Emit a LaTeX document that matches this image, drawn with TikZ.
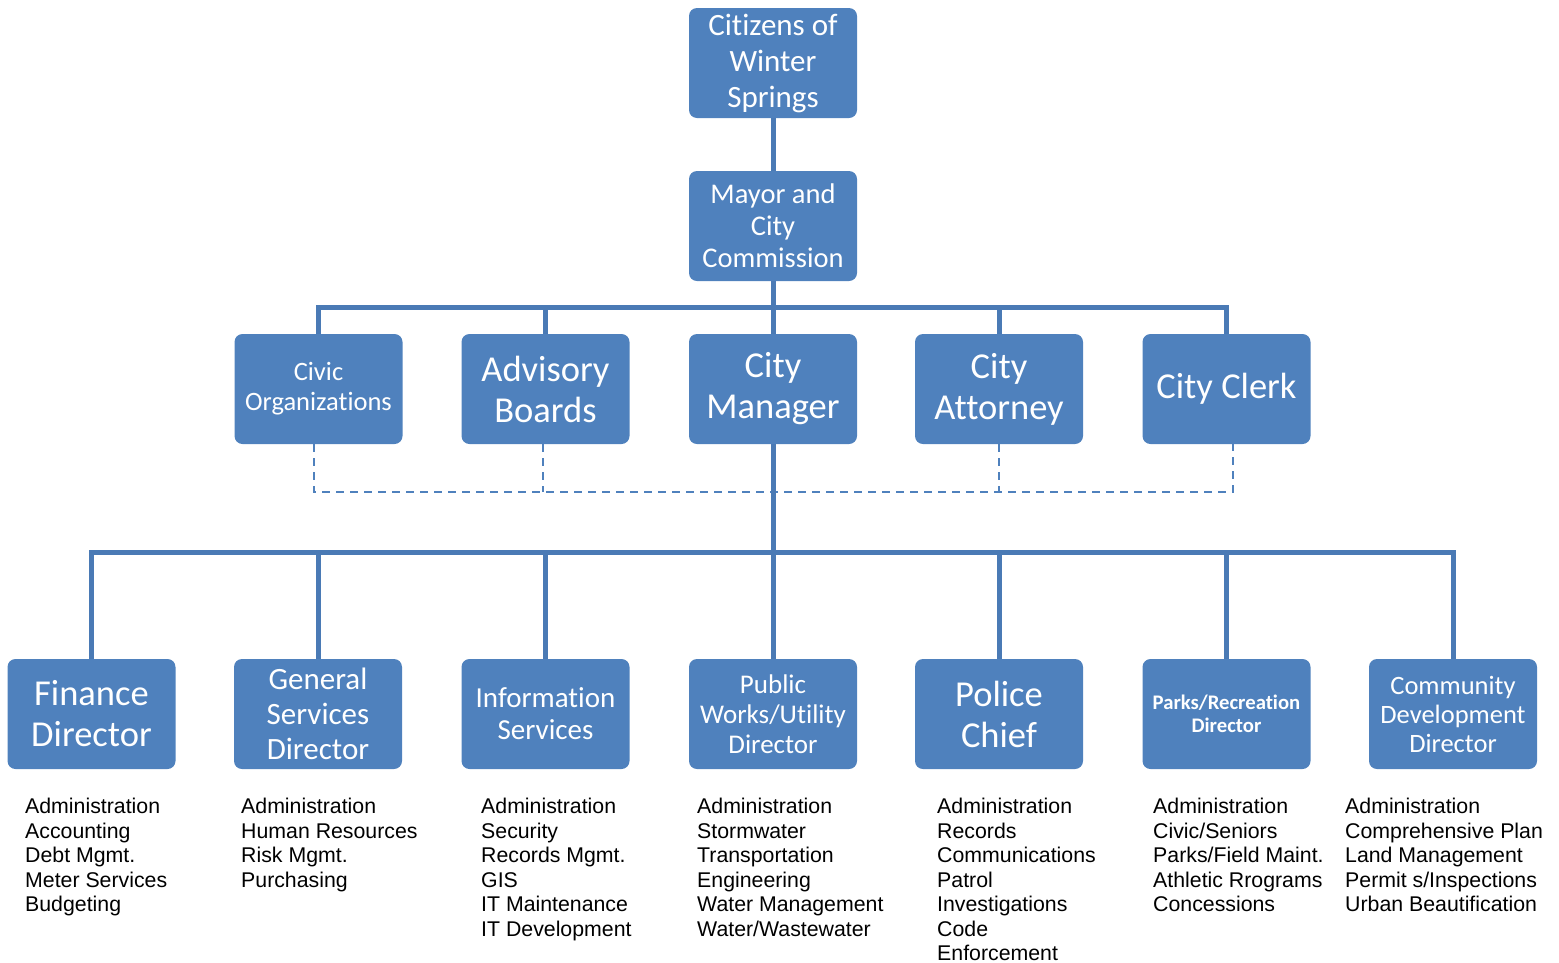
\documentclass[tikz,border=0pt]{standalone}
\usepackage{fontspec}
\usetikzlibrary{backgrounds}
\setmainfont{Liberation Sans}
\newfontfamily\boxfont[Ligatures=NoCommon]{Carlito}
\newcommand\bsz[2]{\boxfont\fontsize{#1}{#2}\selectfont}
\definecolor{boxblue}{HTML}{4F81BD}
\definecolor{lineblue}{HTML}{4A7AB5}
\begin{document}
\begin{tikzpicture}[x=1pt,y=-1pt,
  bx/.style={rectangle, rounded corners=8pt, fill=boxblue, minimum width=168pt, minimum height=110pt, text=white, align=center, inner sep=0pt},
  conn/.style={draw=lineblue, line width=5pt},
  dsh/.style={draw=boxblue, line width=1.8pt, dash pattern=on 8pt off 6pt},
  lst/.style={anchor=north west, inner sep=0pt, align=left, font=\fontsize{21.3}{24.5}\selectfont}]
\useasboundingbox (0,0) rectangle (1559,962);
% top
\node[bx, font=\bsz{31}{36}] (cit) at (773,63) {Citizens of\\Winter\\Springs};
\node[bx, font=\bsz{28.5}{32}] (may) at (773,226) {Mayor and\\City\\Commission};
% row 2
\node[bx, font=\bsz{26.5}{30}] (civ) at (318.5,389) {Civic\\Organizations};
\node[bx, font=\bsz{36.5}{41}] (adv) at (545.5,389) {Advisory\\Boards};
\node[bx, font=\bsz{36.5}{41}] (cm) at (773,389) {City\\Manager};
\node[bx, font=\bsz{36.5}{41}] (att) at (999,389) {City\\Attorney};
\node[bx, font=\bsz{36.5}{41}] (clk) at (1226.5,389) {City Clerk};
% row 3
\node[bx, font=\bsz{36.5}{41}] (fin) at (91.5,714) {Finance\\Director};
\node[bx, font=\bsz{31}{35}] (gen) at (318,714) {General\\Services\\Director};
\node[bx, font=\bsz{29}{32}] (inf) at (545.5,714) {Information\\Services};
\node[bx, font=\bsz{27}{30}] (pw) at (773,714) {Public\\Works/Utility\\Director};
\node[bx, font=\bsz{36.5}{41}] (pol) at (999,714) {Police\\Chief};
\node[bx, font=\bsz{20.7}{23}\bfseries] (par) at (1226.5,714) {Parks/Recreation\\Director};
\node[bx, font=\bsz{26.5}{29}] (com) at (1453,714) {Community\\Development\\Director};
\coordinate (busA) at (773,307);
\coordinate (busB) at (773,552);
\coordinate (dline) at (773,492);
\begin{scope}[on background layer]
% connectors top
\draw[conn] (cit.south) -- (may.north);
\draw[conn] (may.south) -- (cm.north);
\draw[conn, line join=miter] (civ.north) -- (civ.north |- busA) -- (clk.north |- busA) -- (clk.north);
\draw[conn] (adv.north) -- (adv.north |- busA);
\draw[conn] (att.north) -- (att.north |- busA);
% dashed
\draw[dsh] ([xshift=-4.5pt]civ.south) -- ([xshift=-4.5pt]civ.south |- dline) -- ([xshift=6.5pt]clk.south |- dline) -- ([xshift=6.5pt]clk.south);
\draw[dsh] ([xshift=-2.5pt]adv.south) -- ([xshift=-2.5pt]adv.south |- dline);
\draw[dsh] (att.south) -- (att.south |- dline);
% connectors bottom
\draw[conn] (cm.south) -- (pw.north);
\draw[conn, line join=miter] (fin.north) -- (fin.north |- busB) -- (com.north |- busB) -- (com.north);
\draw[conn] (gen.north) -- (gen.north |- busB);
\draw[conn] (inf.north) -- (inf.north |- busB);
\draw[conn] (pol.north) -- (pol.north |- busB);
\draw[conn] (par.north) -- (par.north |- busB);
\end{scope}
% lists
\node[lst] (l1) at (25,798) {Administration\\Accounting\\Debt Mgmt.\\Meter Services\\Budgeting};
\node[lst] (l2) at (241,798) {Administration\\Human Resources\\Risk Mgmt.\\Purchasing};
\node[lst] (l3) at (481,798) {Administration\\Security\\Records Mgmt.\\GIS\\IT Maintenance\\IT Development};
\node[lst] (l4) at (697,798) {Administration\\Stormwater\\Transportation\\Engineering\\Water Management\\Water/Wastewater};
\node[lst] (l5) at (937,798) {Administration\\Records\\Communications\\Patrol\\Investigations\\Code\\Enforcement};
\node[lst] (l6) at (1153,798) {Administration\\Civic/Seniors\\Parks/Field Maint.\\Athletic Rrograms\\Concessions};
\node[lst] (l7) at (1345,798) {Administration\\Comprehensive Plan\\Land Management\\Permit s/Inspections\\Urban Beautification};
\end{tikzpicture}
\end{document}
